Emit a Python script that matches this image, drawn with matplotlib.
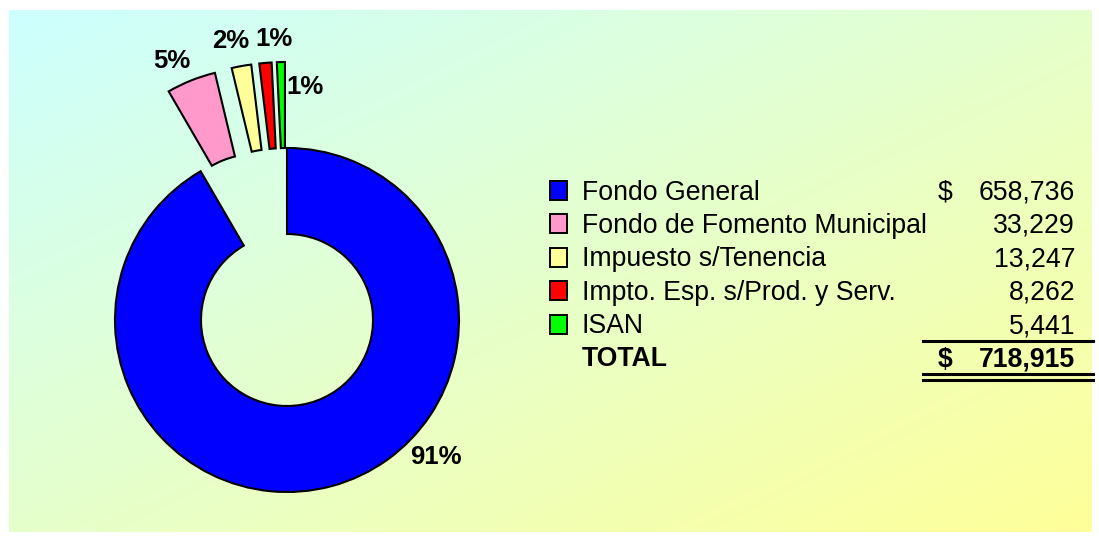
import numpy as np
import matplotlib.pyplot as plt
from matplotlib.patches import Rectangle

# datos
categorias = ["Fondo General", "Fondo de Fomento Municipal", "Impuesto s/Tenencia",
              "Impto. Esp. s/Prod. y Serv.", "ISAN"]
montos = [658736, 33229, 13247, 8262, 5441]
montos_txt = ["658,736", "33,229", "13,247", "8,262", "5,441"]
porcentajes = ["91%", "5%", "2%", "1%", "1%"]
total_txt = "718,915"
colores = ["#0000FF", "#FF99CC", "#FFFF99", "#FF0000", "#00FF00"]

plt.rcParams['font.family'] = ['Liberation Sans', 'DejaVu Sans']

W, H = 1099, 542
fig = plt.figure(figsize=(W / 100, H / 100), dpi=100)

# fondo degradado (cian arriba-izq -> amarillo abajo-der)
bg = fig.add_axes([0, 0, 1, 1])
bg.set_xlim(0, W)
bg.set_ylim(H, 0)
bg.axis('off')
gx, gy = np.meshgrid(np.linspace(0, 1, 400), np.linspace(0, 1, 200))
t = ((gx + gy) / 2)[..., None]
c0 = np.array([0.80, 1.0, 1.0])
c1 = np.array([1.0, 1.0, 0.60])
bg.imshow(c0 * (1 - t) + c1 * t, extent=(9, 1092, 532, 10), aspect='auto', zorder=0)

# dona
cx, cy, r = 287, 320, 172
ax = fig.add_axes([0, 0, 1, 1])
ax.pie(montos, colors=colores, startangle=90, counterclock=False,
       explode=[0, 0.5, 0.5, 0.5, 0.5],
       wedgeprops=dict(width=0.5, edgecolor='black', linewidth=1.5))
ax.set_xlim(-cx / r, (W - cx) / r)
ax.set_ylim(-(H - cy) / r, cy / r)
ax.set_aspect('auto')
ax.axis('off')

# capa de texto en pixeles
ov = fig.add_axes([0, 0, 1, 1])
ov.set_xlim(0, W)
ov.set_ylim(H, 0)
ov.axis('off')

# etiquetas de porcentaje (centro en pixeles)
pos_pct = [(436, 455), (172, 59), (231, 40), (274, 38), (305, 86)]
for txt, (px, py) in zip(porcentajes, pos_pct):
    ov.text(px, py + 8.5, txt, ha='center', va='baseline', fontsize=18.5, fontweight='bold')

# leyenda con montos
fs = 19.2
y0, dy = 199.5, 33.4
clip = Rectangle((0, 0), 926, H, transform=ov.transData)
for i, (nom, val, col) in enumerate(zip(categorias, montos_txt, colores)):
    yb = y0 + i * dy
    ov.add_patch(Rectangle((550, yb - 18.5), 17, 19, facecolor=col, edgecolor='black', linewidth=1.4))
    t_nom = ov.text(582, yb, nom, ha='left', va='baseline', fontsize=fs)
    t_nom.set_clip_path(clip)
    ov.text(1075, yb, val, ha='right', va='baseline', fontsize=fs)
ov.text(938, y0, "$", ha='left', va='baseline', fontsize=fs)

yt = y0 + 5 * dy
ov.text(582, yt, "TOTAL", ha='left', va='baseline', fontsize=fs, fontweight='bold')
ov.text(938, yt, "$", ha='left', va='baseline', fontsize=fs, fontweight='bold')
ov.text(1075, yt, total_txt, ha='right', va='baseline', fontsize=fs, fontweight='bold')

ov.plot([923, 1093], [341, 341], color='black', linewidth=2.2)
ov.plot([923, 1093], [374, 374], color='black', linewidth=2.2)
ov.plot([923, 1093], [379.5, 379.5], color='black', linewidth=2.2)

fig.savefig('out.png', dpi=100)
